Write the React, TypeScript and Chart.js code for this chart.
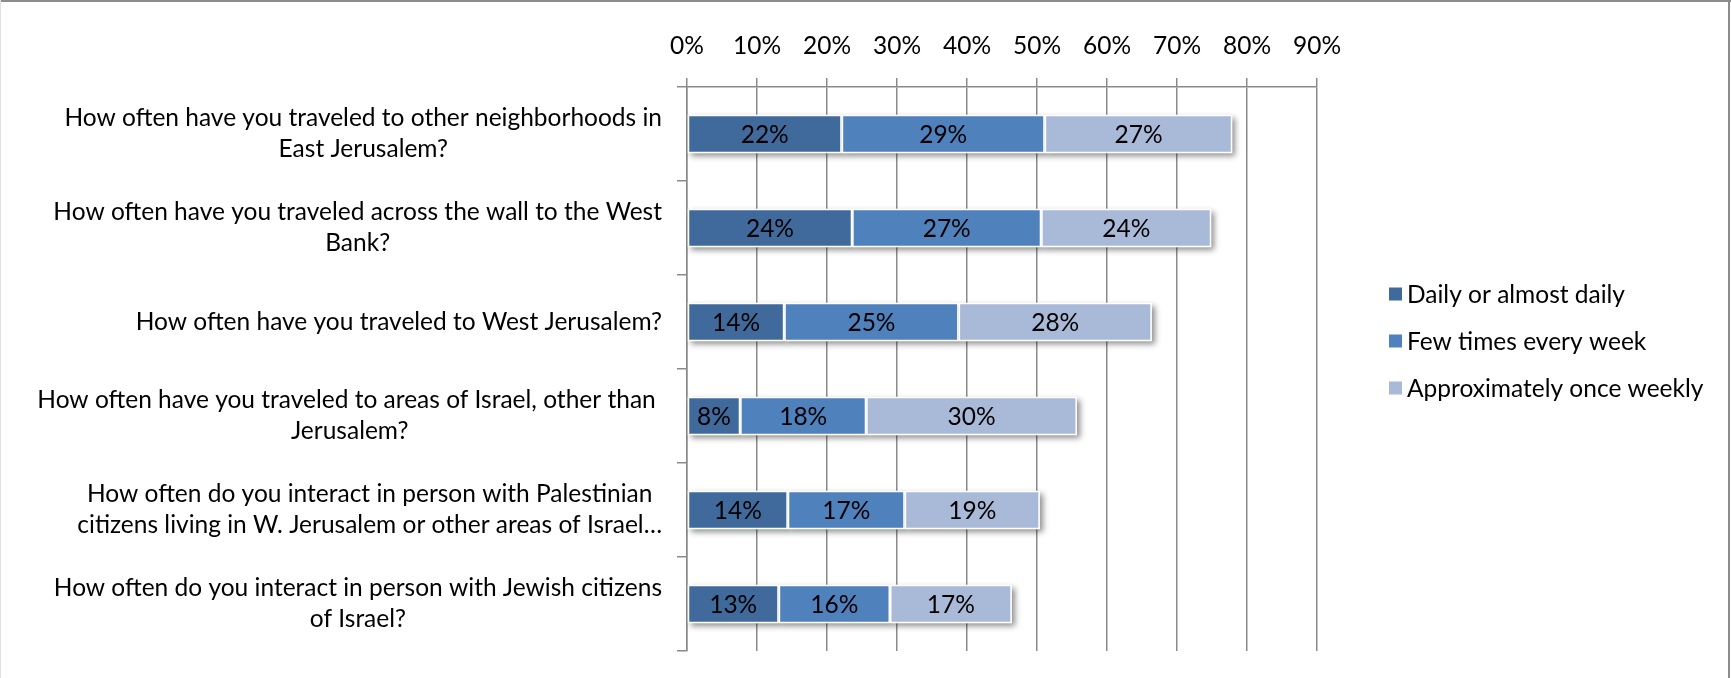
import { useEffect, useRef } from "react";
import { Chart, registerables } from "chart.js";

Chart.register(...registerables);

const categories: string[][] = [
  ["How often have you traveled to other neighborhoods in", "East Jerusalem?"],
  ["How often have you traveled across the wall to the West", "Bank?"],
  ["How often have you traveled to West Jerusalem?"],
  ["How often have you traveled to areas of Israel, other than ", "Jerusalem?"],
  ["How often do you interact in person with Palestinian", "citizens living in W. Jerusalem or other areas of Israel…"],
  ["How often do you interact in person with Jewish citizens", "of Israel?"],
];

const seriesNames = ["Daily or almost daily", "Few times every week", "Approximately once weekly"];
const daily = [22.1, 23.6, 13.9, 7.6, 14.4, 13.1];
const fewTimes = [29.0, 27.0, 24.9, 18.0, 16.7, 15.9];
const onceWeekly = [26.8, 24.3, 27.6, 30.1, 19.3, 17.4];
const seriesColors = ["#406A9C", "#4F81BD", "#A9BAD8"];

const xMin = 0;
const xMax = 90;
const xStep = 10;

const FONT = "Lato, 'Noto Sans', sans-serif";
const FS = 24.5;

export default function App() {
  const ref = useRef<HTMLCanvasElement | null>(null);

  useEffect(() => {
    const canvas = ref.current!;

    const framePlugin = {
      id: "frame",
      beforeDraw(chart: any) {
        const ctx = chart.ctx;
        ctx.save();
        ctx.fillStyle = "#fff";
        ctx.fillRect(0, 0, chart.width, chart.height);
        ctx.strokeStyle = "#8c8c8c";
        ctx.lineWidth = 2;
        ctx.beginPath();
        ctx.moveTo(0, 1);
        ctx.lineTo(chart.width, 1);
        ctx.moveTo(chart.width - 2, 0);
        ctx.lineTo(chart.width - 2, chart.height);
        ctx.stroke();
        ctx.strokeStyle = "#e0e0e0";
        ctx.lineWidth = 1;
        ctx.beginPath();
        ctx.moveTo(0.5, 0);
        ctx.lineTo(0.5, chart.height);
        ctx.stroke();
        ctx.restore();
      },
    };

    const shadowPlugin = {
      id: "barShadow",
      beforeDatasetsDraw(chart: any) {
        const ctx = chart.ctx;
        chart.data.datasets.forEach((_: any, di: number) => {
          const meta = chart.getDatasetMeta(di);
          meta.data.forEach((el: any) => {
            const { x, y, base, height } = el.getProps(["x", "y", "base", "height"], true);
            ctx.save();
            ctx.shadowColor = "rgba(0,0,0,0.45)";
            ctx.shadowBlur = 6;
            ctx.shadowOffsetX = 3;
            ctx.shadowOffsetY = 3;
            ctx.fillStyle = "#fff";
            ctx.fillRect(Math.min(x, base), y - height / 2, Math.abs(x - base), height);
            ctx.restore();
          });
        });
      },
      afterDatasetsDraw(chart: any) {
        const ctx = chart.ctx;
        ctx.save();
        ctx.font = `${FS}px ${FONT}`;
        ctx.fillStyle = "#000";
        ctx.textAlign = "center";
        ctx.textBaseline = "middle";
        chart.data.datasets.forEach((ds: any, di: number) => {
          const meta = chart.getDatasetMeta(di);
          meta.data.forEach((el: any, i: number) => {
            const { x, y, base } = el.getProps(["x", "y", "base"], true);
            ctx.fillText(`${Math.round(ds.data[i])}%`, (x + base) / 2, y + 1);
          });
        });
        ctx.restore();
      },
    };

    const labelsPlugin = {
      id: "catLabels",
      afterDraw(chart: any) {
        const ctx = chart.ctx;
        const yScale = chart.scales.y;
        const rightX = 662;
        const lh = 31;
        ctx.save();
        ctx.font = `${FS}px ${FONT}`;
        ctx.fillStyle = "#000";
        ctx.textAlign = "center";
        ctx.textBaseline = "middle";
        categories.forEach((lines, i) => {
          const cy = yScale.getPixelForValue(i);
          const maxW = Math.max(...lines.map((l) => ctx.measureText(l).width));
          const cx = rightX - maxW / 2;
          const y0 = cy - ((lines.length - 1) * lh) / 2;
          lines.forEach((l, k) => ctx.fillText(l, cx, y0 + k * lh));
        });
        // legend
        const legX = 1389;
        const legY0 = 294;
        const legGap = 47;
        const box = 13;
        ctx.textAlign = "left";
        chart.data.datasets.forEach((ds: any, di: number) => {
          const cy = legY0 + di * legGap;
          ctx.fillStyle = ds.backgroundColor;
          ctx.fillRect(legX, cy - box / 2, box, box);
          ctx.fillStyle = "#000";
          ctx.fillText(ds.label, legX + 18, cy + 1);
        });
        ctx.restore();
      },
    };

    const chart = new Chart(canvas, {
      type: "bar",
      data: {
        labels: categories.map((c) => c.join(" ")),
        datasets: [daily, fewTimes, onceWeekly].map((d, i) => ({
          label: seriesNames[i],
          data: d,
          backgroundColor: seriesColors[i],
          borderColor: "#ffffff",
          borderWidth: 1.5,
          borderSkipped: false,
          categoryPercentage: 0.41,
          barPercentage: 1,
        })),
      },
      options: {
        indexAxis: "y",
        responsive: false,
        animation: false,
        devicePixelRatio: 1,
        layout: { padding: { left: 0, top: 0, right: 414, bottom: 27 } },
        plugins: {
          legend: { display: false },
          tooltip: { enabled: false },
        },
        scales: {
          x: {
            position: "top",
            stacked: true,
            min: xMin,
            max: xMax,
            ticks: {
              stepSize: xStep,
              callback: (v: any) => `${v}%`,
              font: { family: FONT, size: FS },
              color: "#000",
              padding: 17,
            },
            grid: { color: "#8a8a8a", lineWidth: 1.5, tickLength: 9, drawTicks: true },
            border: { display: true, color: "#8a8a8a", width: 1.5 },
            afterFit: (s: any) => {
              s.height = 87;
            },
          },
          y: {
            stacked: true,
            ticks: { display: false },
            grid: { drawOnChartArea: false, drawTicks: true, tickLength: 10, color: "#8a8a8a", lineWidth: 1.5, offset: true },
            border: { display: true, color: "#8a8a8a", width: 1.5 },
            afterFit: (s: any) => {
              s.width = 687;
            },
          },
        },
      },
      plugins: [framePlugin, shadowPlugin, labelsPlugin],
    } as any);

    return () => chart.destroy();
  }, []);

  return (
    <div style={{ position: "absolute", left: 0, top: 0, width: 1731, height: 678, background: "#fff" }}>
      <canvas ref={ref} width={1731} height={678} style={{ display: "block", width: 1731, height: 678 }} />
    </div>
  );
}
